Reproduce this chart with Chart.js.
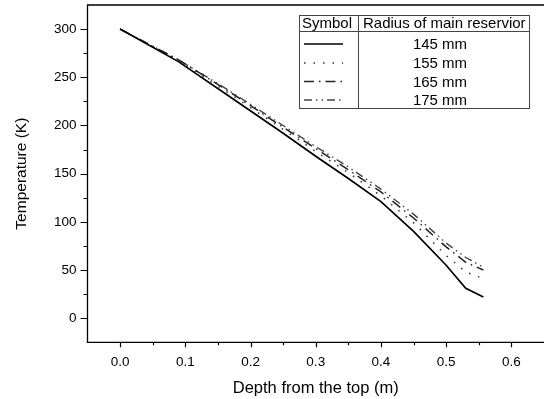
<!DOCTYPE html>
<html>
<head>
<meta charset="utf-8">
<script src="https://cdn.jsdelivr.net/npm/chart.js@4"></script>
<style>
  html, body { margin: 0; padding: 0; background: #fff; }
  #wrap { width: 544px; height: 399px; }
</style>
</head>
<body>
<div id="wrap"><canvas id="grafico" width="544" height="399"></canvas></div>
<script>
// valores
const depth = [0, 0.09, 0.17, 0.25, 0.30, 0.35, 0.40, 0.45, 0.50, 0.53, 0.557];
const temp145 = [300, 266, 229, 192, 168, 145, 121, 90, 55, 31, 22];
const temp155 = [300, 267, 232, 196, 173, 151, 127, 99, 65, 48, 41];
const temp165 = [300, 268, 234, 198, 176, 154, 131, 104, 74, 58, 50];
const temp175 = [300, 268, 235, 200, 178, 157, 134, 108, 78, 63, 53];
const seriesNames = ['145 mm', '155 mm', '165 mm', '175 mm'];
const xTicks = [0, 0.1, 0.2, 0.3, 0.4, 0.5, 0.6];
const yTicks = [0, 50, 100, 150, 200, 250, 300];

const FONT = '"Liberation Sans", Arial, sans-serif';

const estilos = [
  { color: '#000', width: 1.7, dash: [] },
  { color: '#333', width: 1.5, dash: [1.5, 8] },
  { color: '#222', width: 1.5, dash: [10, 5, 1.5, 5] },
  { color: '#444', width: 1.4, dash: [8, 4, 1.5, 4, 1.5, 4] }
];

function pontos(ys) {
  return depth.map((d, i) => ({ x: d, y: ys[i] }));
}

const series = [temp145, temp155, temp165, temp175];

// moldura, marcas de escala e a tabela de legenda
const extras = {
  id: 'extras',
  afterDraw(chart) {
    const c = chart.ctx;
    const a = chart.chartArea;
    const sx = chart.scales.x, sy = chart.scales.y;
    c.save();
    c.strokeStyle = '#000';
    c.lineWidth = 1.3;
    c.beginPath();
    c.moveTo(chart.width + 5, a.top);
    c.lineTo(a.left, a.top);
    c.lineTo(a.left, a.bottom);
    c.lineTo(chart.width + 5, a.bottom);
    c.stroke();

    c.lineWidth = 1.2;
    c.beginPath();
    for (let v = 0; v <= 0.6001; v += 0.05) {
      const px = Math.round(sx.getPixelForValue(v)) + 0.5;
      const major = Math.abs(v * 10 - Math.round(v * 10)) < 1e-6;
      c.moveTo(px, a.bottom);
      c.lineTo(px, a.bottom + (major ? 5 : 3));
    }
    for (let v = 0; v <= 300; v += 25) {
      const py = Math.round(sy.getPixelForValue(v)) + 0.5;
      const major = v % 50 === 0;
      c.moveTo(a.left, py);
      c.lineTo(a.left - (major ? 7 : 4), py);
    }
    c.stroke();

    // tabela da legenda
    const L = 299.5, D = 358.5, R = 529.5, T = 15.5, H = 31.5, B = 108.5;
    c.strokeStyle = '#444';
    c.lineWidth = 1;
    c.strokeRect(L, T, R - L, B - T);
    c.beginPath();
    c.moveTo(L, H); c.lineTo(R, H);
    c.moveTo(D, T); c.lineTo(D, B);
    c.stroke();

    c.fillStyle = '#000';
    c.font = '15px ' + FONT;
    c.textBaseline = 'middle';
    c.textAlign = 'left';
    c.fillText('Symbol', 302, 24);
    c.fillText('Radius of main reservior', 363, 24);
    c.textAlign = 'center';
    const rowsY = [44, 63, 81.5, 100];
    seriesNames.forEach((nome, i) => {
      const y = rowsY[i];
      c.fillText(nome, 440, y + 1);
      const e = estilos[i];
      c.strokeStyle = e.color;
      c.lineWidth = e.width;
      c.setLineDash(e.dash);
      c.beginPath();
      c.moveTo(304, y);
      c.lineTo(343, y);
      c.stroke();
      c.setLineDash([]);
    });
    c.restore();
  }
};

const ctx = document.getElementById('grafico').getContext('2d');

new Chart(ctx, {
  type: 'scatter',
  data: {
    datasets: series.map((ys, i) => ({
      label: seriesNames[i],
      data: pontos(ys),
      showLine: true,
      borderColor: estilos[i].color,
      borderWidth: estilos[i].width,
      borderDash: estilos[i].dash,
      pointRadius: 0,
      fill: false,
      tension: 0
    }))
  },
  options: {
    responsive: false,
    animation: false,
    layout: { padding: { left: 0, right: -2, top: 5, bottom: 0 } },
    plugins: {
      legend: { display: false },
      tooltip: { enabled: false }
    },
    scales: {
      x: {
        type: 'linear',
        min: -0.05,
        max: 0.65,
        grid: { display: false, drawTicks: false },
        border: { display: false },
        afterBuildTicks: s => { s.ticks = xTicks.map(v => ({ value: v })); },
        afterFit: s => { s.height = 56.7; s.paddingLeft = 0; s.paddingRight = 0; },
        ticks: {
          padding: 12,
          color: '#000',
          font: { family: FONT, size: 13.5 },
          callback: v => Number(v).toFixed(1)
        },
        title: {
          display: true,
          text: 'Depth from the top (m)',
          color: '#000',
          font: { family: FONT, size: 16.5 },
          padding: { top: 0, bottom: 1 }
        }
      },
      y: {
        type: 'linear',
        min: -25,
        max: 325,
        grid: { display: false, drawTicks: false },
        border: { display: false },
        afterBuildTicks: s => { s.ticks = yTicks.map(v => ({ value: v })); },
        afterFit: s => { s.width = 87.5; s.paddingTop = 0; s.paddingBottom = 0; },
        ticks: {
          padding: 11,
          color: '#000',
          font: { family: FONT, size: 13.5 },
          callback: v => String(v)
        },
        title: {
          display: true,
          text: 'Temperature (K)',
          color: '#000',
          font: { family: FONT, size: 15.5 },
          padding: { top: 12.5, bottom: 0 }
        }
      }
    }
  },
  plugins: [extras]
});
</script>
</body>
</html>
